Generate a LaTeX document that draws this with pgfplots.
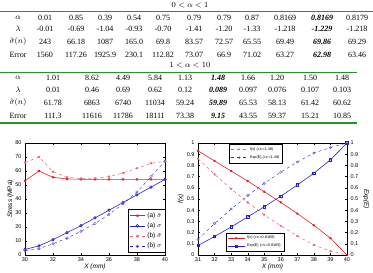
\documentclass[border=0pt]{standalone}
\usepackage{pgfplots}
\pgfplotsset{compat=1.18}
\usepackage{fontspec}
\setmainfont{Liberation Serif}
\newfontfamily\arial{Liberation Sans}
\definecolor{rulegreen}{RGB}{30,150,40}
\definecolor{cred}{RGB}{228,30,35}
\definecolor{cpink}{RGB}{240,95,110}
\definecolor{cblue}{RGB}{35,35,210}
\definecolor{cpurple}{RGB}{110,70,220}

\pgfplotsset{
  mplot/.style={
    scale only axis,
    tick align=inside,
    major tick length=2pt,
    axis line style={black,line width=0.4pt},
    every tick/.style={black,line width=0.3pt},
    /pgf/number format/assume math mode=true,
    tick label style={font=\arial\fontsize{5.5}{6}\selectfont},
    label style={font=\arial\fontsize{6.5}{7}\selectfont},
    xticklabel style={yshift=1pt},
    xlabel style={yshift=5pt},
  },
}

\begin{document}
\begin{tikzpicture}[x=1pt,y=1pt]
\path[use as bounding box] (0pt,0pt) rectangle (373pt,273pt);

% ---------- tables ----------
\begin{scope}[every node/.style={font=\fontsize{8}{9}\selectfont, inner sep=0pt}]
\node at (190,268) {$0<\alpha<1$};
\draw[rulegreen, line width=0.9pt] (0,262) -- (373,262);
\node at (18,255) {$\alpha$};
\node at (18,244) {$\lambda$};
\node at (18,231) {$\tilde{\sigma}(n)$};
\node at (18,218) {Error};
\foreach \x/\a/\l/\s/\e in {
   45/0.01/-0.01/243/1560,
   76/0.85/-0.69/66.18/117.26,
  105/0.39/-1.04/1087/1925.9,
  134/0.54/-0.93/165.0/230.1,
  163/0.75/-0.70/69.8/112.82,
  194/0.79/-1.41/83.57/73.07,
  224/0.79/-1.20/72.57/66.9,
  252/0.87/-1.33/65.55/71.02,
  285/0.8169/-1.218/69.49/63.27,
  322/{\bfseries\itshape 0.8169}/{\bfseries\itshape -1.229}/{\bfseries\itshape 69.86}/{\bfseries\itshape 62.98},
  357/0.8179/-1.218/69.29/63.46}
{
  \node at (\x,255) {\a};
  \node at (\x,244) {\l};
  \node at (\x,231) {\s};
  \node at (\x,218) {\e};
}
\node at (190,208) {$1<\alpha<10$};
\draw[rulegreen, line width=0.9pt] (0,201) -- (357,201);
\node at (18,195) {$\alpha$};
\node at (18,183) {$\lambda$};
\node at (18,170) {$\tilde{\sigma}(n)$};
\node at (18,157) {Error};
\foreach \x/\a/\l/\s/\e in {
   53/1.01/0.01/61.78/111.3,
   92/8.62/0.46/6863/11616,
  123/4.49/0.69/6740/11786,
  155/5.84/0.62/11034/18111,
  185/1.13/0.12/59.24/73.38,
  218/{\bfseries\itshape 1.48}/{\bfseries\itshape 0.089}/{\bfseries\itshape 59.89}/{\bfseries\itshape 9.15},
  248/1.66/0.097/65.53/43.55,
  277/1.20/0.076/58.13/59.37,
  310/1.50/0.107/61.42/15.21,
  342/1.48/0.103/60.62/10.85}
{
  \node at (\x,195) {\a};
  \node at (\x,183) {\l};
  \node at (\x,170) {\s};
  \node at (\x,157) {\e};
}
\draw[rulegreen, line width=1.2pt] (0,150) -- (357,150);
\end{scope}

% ---------- stress along X ----------
\begin{axis}[mplot,
  at={(25pt,18pt)}, anchor=south west,
  width=140pt, height=112pt,
  xmin=30, xmax=40, ymin=0, ymax=80,
  xtick={30,32,...,40}, ytick={0,10,...,80},
  xlabel={\itshape X (mm)},
  ylabel={\itshape Stress \upshape(MPa)},
  ylabel style={yshift=-5pt},
  legend style={at={(1,0.02)}, anchor=south east, draw=black, line width=0.3pt,
    font=\arial\fontsize{6.5}{7.5}\selectfont, inner sep=1.2pt, row sep=0pt,
    legend cell align=left},
  legend image post style={mark size=1.4pt},
  legend image code/.code={\draw[mark repeat=2,mark phase=2] plot coordinates {(0cm,0cm) (0.27cm,0cm) (0.54cm,0cm)};},
  every axis plot/.append style={mark size=1.3pt},
]
\addplot[cred, line width=0.6pt, mark=asterisk] coordinates {
 (30,53) (31,60) (32,55.5) (33,54.3) (34,54.1) (35,54) (36,54) (37,54) (38,54) (39,54) (40,54)};
\addlegendentry{(a) $\tilde{\sigma}$}
\addplot[cblue, line width=0.6pt, mark=o] coordinates {
 (30,4) (31,6.5) (32,11) (33,16) (34,21) (35,26.5) (36,32) (37,37.5) (38,43) (39,48.5) (40,54)};
\addlegendentry{(a) $\sigma$}
\addplot[cpink, line width=0.5pt, dashed, mark=asterisk, mark options={solid}] coordinates {
 (30,66) (31,70) (32,59.5) (33,55.5) (34,54.7) (35,54.7) (36,56) (37,58.5) (38,62) (39,65.5) (40,67)};
\addlegendentry{(b) $\tilde{\sigma}$}
\addplot[cblue, line width=0.4pt, dashed, mark=o, mark options={solid,cpurple}] coordinates {
 (30,3) (31,4.5) (32,8) (33,12) (34,17) (35,22.5) (36,29) (37,36.5) (38,45) (39,56) (40,67)};
\addlegendentry{(b) $\sigma$}
\end{axis}

% ---------- f(x) and Exp(E) along X ----------
\begin{axis}[mplot,
  at={(198pt,18pt)}, anchor=south west,
  width=149pt, height=112pt,
  xmin=31, xmax=40, ymin=0, ymax=1,
  xtick={31,...,40}, ytick={0,0.1,...,1},
  yticklabel style={/pgf/number format/fixed},
  ytick pos=left,
  xlabel={\itshape X (mm)},
  ylabel={\itshape f(x)},
  ylabel style={yshift=-4pt},
  legend style={at={(0.21,0.99)}, anchor=north west, draw=black, line width=0.3pt,
    font=\arial\fontsize{3.8}{4.5}\selectfont, inner sep=1pt, row sep=0pt,
    legend cell align=left},
  legend image post style={mark size=1pt},
  every axis plot/.append style={mark size=1.2pt},
]
\addplot[cpink, line width=0.5pt, dashed, mark=asterisk, mark options={solid}] coordinates {
 (31,0.86) (32,0.72) (33,0.59) (34,0.47) (35,0.36) (36,0.26) (37,0.17) (38,0.09) (39,0.035) (40,0)};
\addlegendentry{f(x) ($\alpha$=1.48)}
\addlegendimage{cblue, line width=0.4pt, dashed, mark=o, mark options={solid,cpurple}}
\addlegendentry{Exp(E) ($\alpha$=1.48)}
\addplot[cred, line width=0.6pt, mark=asterisk, forget plot] coordinates {
 (31,0.93) (32,0.84) (33,0.75) (34,0.66) (35,0.565) (36,0.47) (37,0.37) (38,0.265) (39,0.15) (40,0)};
\end{axis}
\begin{axis}[mplot,
  at={(198pt,18pt)}, anchor=south west,
  width=149pt, height=112pt,
  xmin=31, xmax=40, ymin=0, ymax=1,
  axis x line=none,
  axis y line*=right,
  ytick={0,0.1,...,1},
  yticklabel style={/pgf/number format/fixed},
  ylabel={\itshape Exp(E)},
  ylabel style={rotate=180, yshift=-2pt},
  legend style={at={(0.19,0.03)}, anchor=south west, draw=black, line width=0.3pt,
    font=\arial\fontsize{3.8}{4.5}\selectfont, inner sep=1pt, row sep=0pt,
    legend cell align=left},
  legend image post style={mark size=1pt},
  every axis plot/.append style={mark size=1.2pt},
]
\addlegendimage{cred, line width=0.6pt, mark=asterisk}
\addlegendentry{f(x) ($\alpha$=0.8169)}
\addplot[cblue, line width=0.6pt, mark=square] coordinates {
 (31,0.085) (32,0.165) (33,0.25) (34,0.34) (35,0.43) (36,0.525) (37,0.625) (38,0.73) (39,0.85) (40,1)};
\addlegendentry{Exp(E) ($\alpha$=0.8169)}
\addplot[cblue, line width=0.4pt, dashed, mark=o, mark options={solid,cpurple}, forget plot] coordinates {
 (31,0.14) (32,0.28) (33,0.41) (34,0.53) (35,0.64) (36,0.74) (37,0.83) (38,0.91) (39,0.96) (40,1)};
\end{axis}
\end{tikzpicture}
\end{document}
